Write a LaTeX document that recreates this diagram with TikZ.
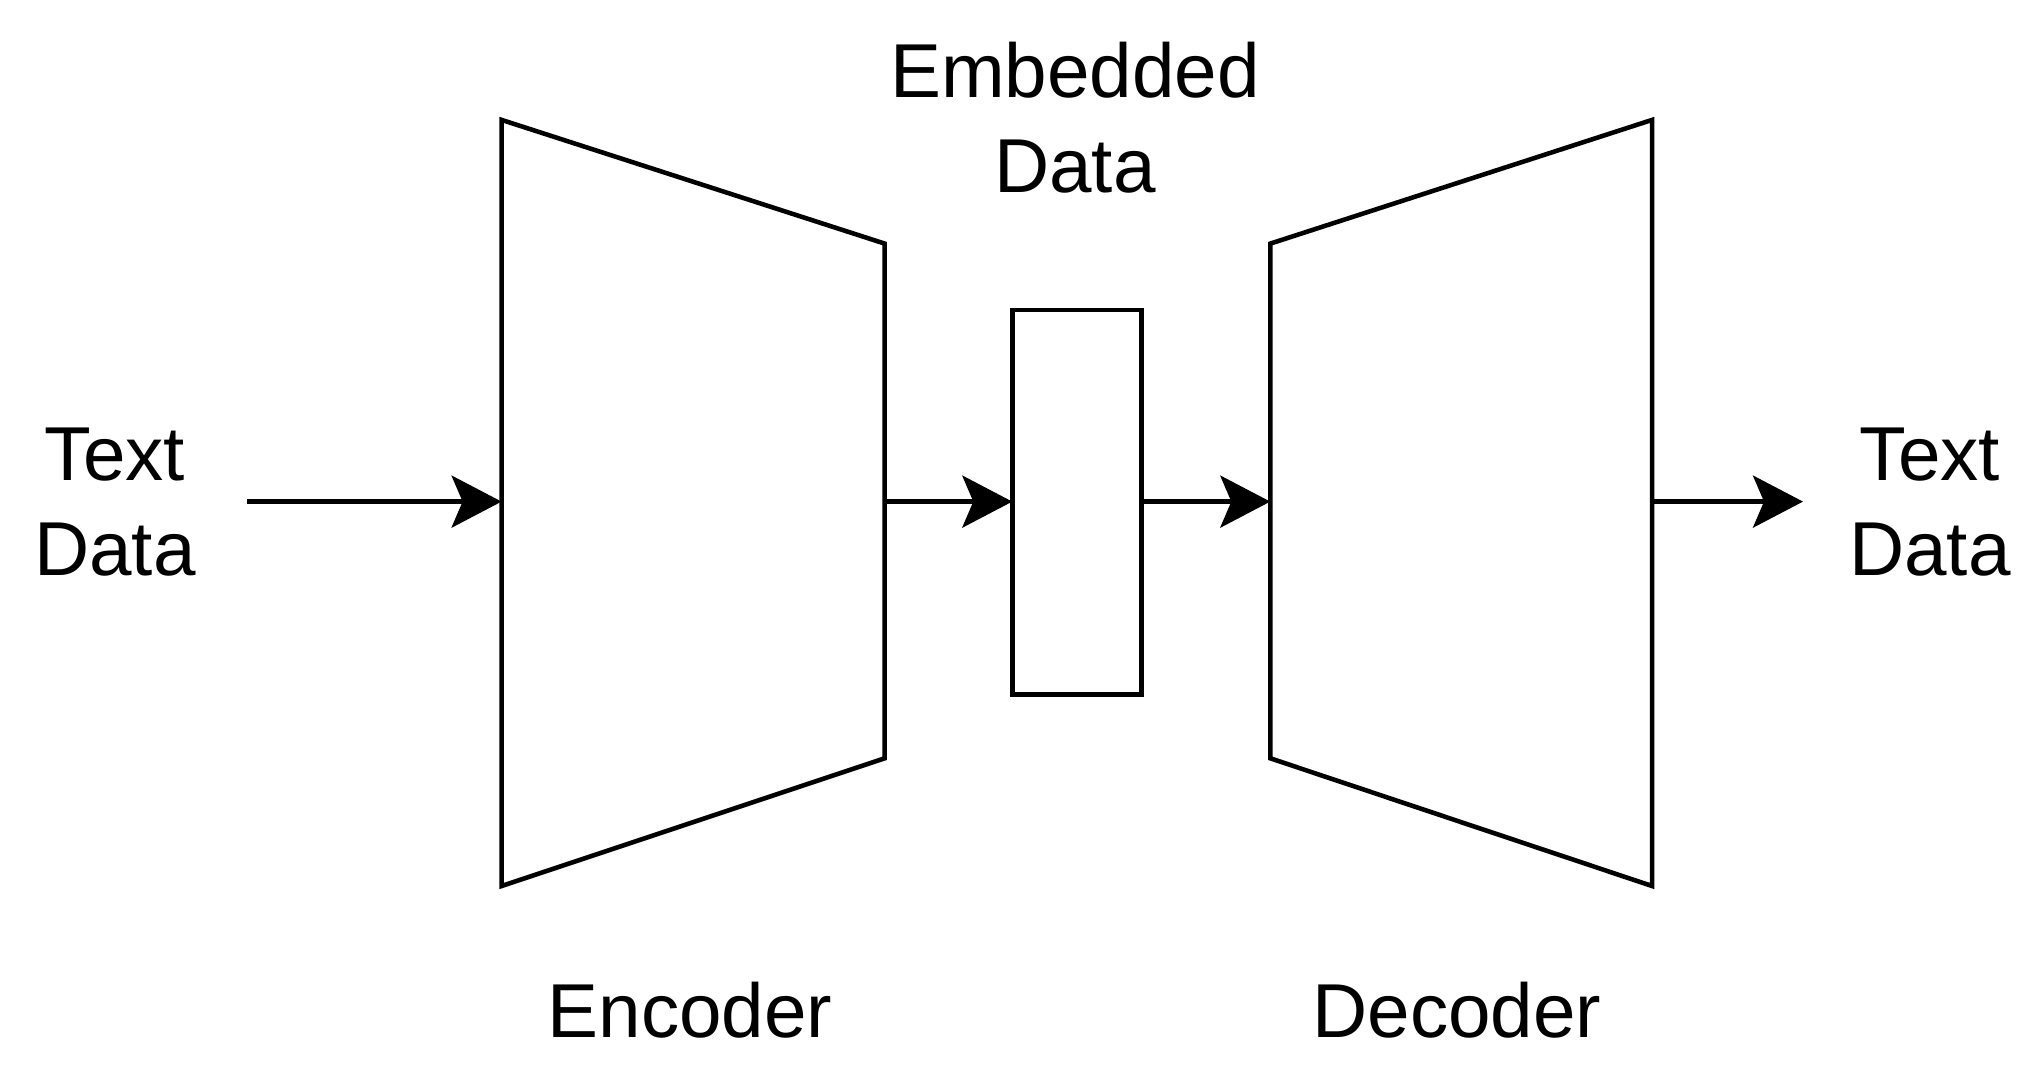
\documentclass[tikz,border=0pt]{standalone}
\usepackage{fontspec}
\setmainfont{Liberation Sans}
\usetikzlibrary{arrows.meta}
\begin{document}
\begin{tikzpicture}[x=0.02cm,y=-0.02cm,
  outline/.style={line width=2.6pt, line join=miter},
  conn/.style={line width=2.6pt, -{Stealth[length=1cm,width=1.04cm,inset=0.22cm]}},
  lbl/.style={font=\fontsize{43.5}{52}\selectfont, align=center, inner sep=0pt}]
\useasboundingbox (0,0) rectangle (2043,1073);
% encoder
\draw[outline] (501.6,119.9) -- (884.7,243.6) -- (884.7,758.3) -- (501.6,886) -- cycle;
% embedded box
\draw[outline] (1012.3,310.1) rectangle (1141.3,694.4);
% decoder
\draw[outline] (1270.3,243.6) -- (1652.1,119.9) -- (1652.1,886) -- (1270.3,758.3) -- cycle;
% connection points
\coordinate (inS) at (247,501.6);
\coordinate (encL) at (501.6,501.6);
\coordinate (encR) at (884.7,501.6);
\coordinate (embL) at (1012.3,501.6);
\coordinate (embR) at (1141.3,501.6);
\coordinate (decL) at (1270.3,501.6);
\coordinate (decR) at (1652.1,501.6);
\coordinate (outE) at (1803,501.6);
\draw[conn] (inS) -- (encL);
\draw[conn] (encR) -- (embL);
\draw[conn] (embR) -- (decL);
\draw[conn] (decR) -- (outE);
% labels
\node[lbl, anchor=base] (tin1) at (115,480) {Text};
\node[lbl, anchor=base] (tin2) at (115,575) {Data};
\node[lbl, anchor=base] (tout1) at (1930,480) {Text};
\node[lbl, anchor=base] (tout2) at (1930,575) {Data};
\node[lbl, anchor=base] (emb1) at (1075,97) {Embedded};
\node[lbl, anchor=base] (emb2) at (1075,192) {Data};
\node[lbl, anchor=base] (enc) at (690,1037) {Encoder};
\node[lbl, anchor=base] (dec) at (1457,1037) {Decoder};
\end{tikzpicture}
\end{document}
